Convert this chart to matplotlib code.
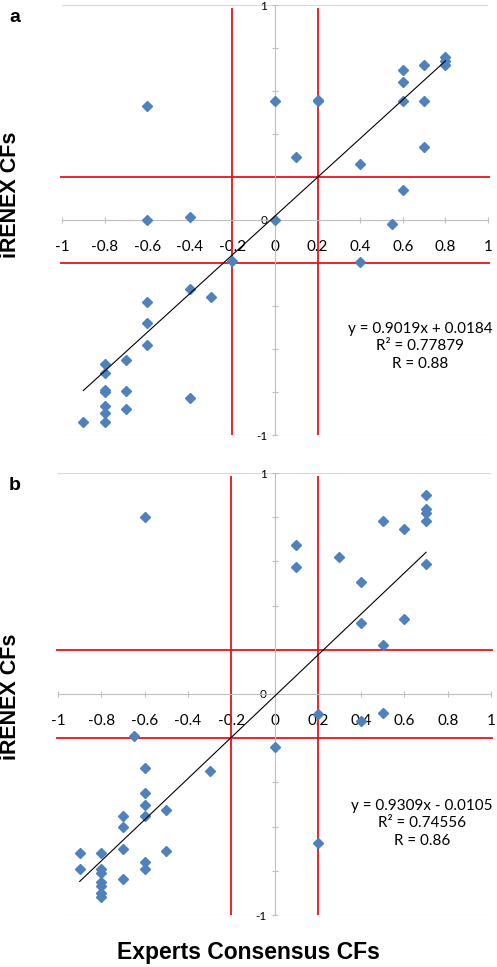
import matplotlib
matplotlib.use("Agg")
import matplotlib.pyplot as plt
import numpy as np

# panel a: experts consensus CF vs iRENEX CF
xa = [-0.6, -0.6, -0.4, 0.0, 0.2, 0.2, 0.1, 0.4, 0.6, 0.55, 0.7, 0.7, 0.6, 0.6, 0.6,
      0.7, 0.8, 0.8, 0.8, 0.0,
      -0.2, -0.4, -0.3, -0.6, -0.6, -0.6, -0.7, -0.8, -0.8, -0.8, -0.8, -0.7, -0.4,
      -0.8, -0.7, -0.8, -0.9, -0.8, 0.4]
ya = [0.53, 0.0, 0.015, 0.555, 0.555, 0.56, 0.295, 0.26, 0.14, -0.02, 0.34, 0.555, 0.555, 0.64, 0.70,
      0.72, 0.76, 0.74, 0.72, 0.0,
      -0.19, -0.32, -0.36, -0.38, -0.48, -0.58, -0.65, -0.67, -0.71, -0.79, -0.80, -0.795, -0.83,
      -0.865, -0.88, -0.90, -0.94, -0.94, -0.195]
fit_a = [0.9019, 0.0184]
fit_a_range = [-0.9, 0.8]
text_a = ["y = 0.9019x + 0.0184", "R² = 0.77879", "R = 0.88"]

# panel b
xb = [-0.6, 0.7, 0.7, 0.7, 0.7, 0.5, 0.6, 0.1, 0.1, 0.3, 0.7, 0.4, 0.4, 0.6, 0.5,
      0.2, 0.4, 0.5, 0.0, 0.2,
      -0.65, -0.6, -0.3, -0.6, -0.6, -0.6, -0.5, -0.7, -0.7, -0.7, -0.9, -0.8, -0.5,
      -0.6, -0.6, -0.9, -0.8, -0.8, -0.7, -0.8, -0.8, -0.8, -0.8]
yb = [0.80, 0.90, 0.835, 0.82, 0.785, 0.785, 0.745, 0.675, 0.575, 0.62, 0.59, 0.505, 0.32, 0.34, 0.22,
      -0.09, -0.12, -0.085, -0.24, -0.675,
      -0.19, -0.335, -0.35, -0.45, -0.50, -0.55, -0.525, -0.55, -0.60, -0.70, -0.72, -0.72, -0.71,
      -0.76, -0.79, -0.79, -0.79, -0.81, -0.835, -0.85, -0.87, -0.90, -0.92]
fit_b = [0.9309, -0.0105]
fit_b_range = [-0.9, 0.7]
text_b = ["y = 0.9309x - 0.0105", "R² = 0.74556", "R = 0.86"]

xticks = np.round(np.arange(-1, 1.01, 0.2), 1)
xticklabels = ["-1", "-0.8", "-0.6", "-0.4", "-0.2", "0", "0.2", "0.4", "0.6", "0.8", "1"]
yticks = np.round(np.arange(-1, 1.01, 0.2), 1)
yticklabels = ["-1", "", "", "", "", "0", "", "", "", "", "1"]

W, H = 497, 967
fig = plt.figure(figsize=(W / 100, H / 100), dpi=100)

blue = "#4f81bd"
red = "#e8141b"
grid = "#d9d9d9"
axcol = "#bfbfbf"
tickfont = "Lato"


def panel(rect, xs, ys, fit, frange, lines):
    ax = fig.add_axes(rect)
    ax.set_xlim(-1, 1)
    ax.set_ylim(-1, 1)
    ax.patch.set_alpha(0)
    for s in ["top", "right"]:
        ax.spines[s].set_visible(False)
    ax.spines["left"].set_position(("data", 0))
    ax.spines["bottom"].set_position(("data", 0))
    ax.spines["left"].set_color(axcol)
    ax.spines["bottom"].set_color(axcol)
    ax.spines["left"].set_linewidth(0.8)
    ax.spines["bottom"].set_linewidth(0.8)
    ax.set_xticks(xticks)
    ax.set_xticklabels(xticklabels, fontfamily=tickfont, fontsize=11)
    ax.set_yticks(yticks)
    ax.set_yticklabels(yticklabels, fontfamily=tickfont, fontsize=8.5)
    ax.tick_params(axis="x", direction="inout", length=5, color=axcol, pad=12)
    ax.tick_params(axis="y", direction="inout", length=5, color=axcol, pad=3)
    for yv in [-1, 1]:
        ax.axhline(yv, color=grid, lw=0.8, zorder=0)

    # red threshold lines
    ax.vlines([-0.2, 0.2], -1, 0.985, color=red, lw=1.3, zorder=2)
    ax.hlines([-0.2, 0.2], -1.01, 1.01, color=red, lw=1.3, zorder=2, clip_on=False)

    ax.plot(xs, ys, "D", color=blue, ms=4.6, mec=blue, zorder=3, clip_on=False)
    fx = np.array(frange)
    ax.plot(fx, fit[0] * fx + fit[1], color="black", lw=0.8, zorder=4)

    ax.text(0.68, -0.475, "\n".join(lines), ha="center", va="top", fontfamily=tickfont,
            fontsize=11, linespacing=1.3)
    return ax


panel([62 / W, 1 - 435 / H, 426 / W, 430 / H], xa, ya, fit_a, fit_a_range, text_a)
panel([58 / W, 1 - 915 / H, 433 / W, 442 / H], xb, yb, fit_b, fit_b_range, text_b)

bold = dict(fontfamily="Liberation Sans", fontweight="bold")
fig.text(9 / W, 1 - 17 / H, "a", fontsize=14, va="center", ha="left", **bold)
fig.text(9 / W, 1 - 485 / H, "b", fontsize=14, va="center", ha="left", **bold)
fig.text(11 / W, 1 - 195 / H, "iRENEX CFs", fontsize=15.5, rotation=90, va="center", ha="center", **bold)
fig.text(11 / W, 1 - 697 / H, "iRENEX CFs", fontsize=15.5, rotation=90, va="center", ha="center", **bold)
fig.text(248 / W, 1 - 953 / H, "Experts Consensus CFs", fontsize=16.5, va="center", ha="center", **bold)

fig.savefig("out.png", dpi=100)
